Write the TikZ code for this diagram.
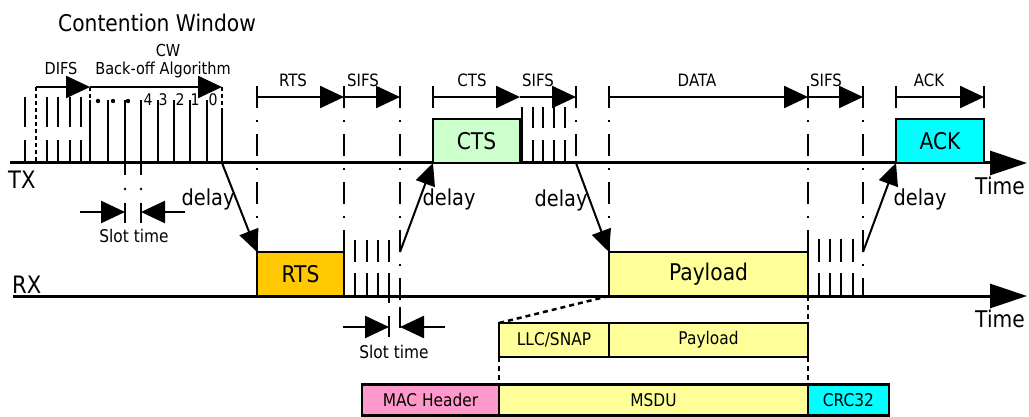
\documentclass[tikz,border=0pt]{standalone}
\usepackage{fontspec}
\setmainfont{DejaVu Sans}[FakeStretch=0.88]
\usetikzlibrary{arrows.meta}
\definecolor{rtsfill}{HTML}{FFC800}
\definecolor{ctsfill}{HTML}{CCFFCC}
\definecolor{ackfill}{HTML}{00FFFF}
\definecolor{payfill}{HTML}{FFFF99}
\definecolor{macfill}{HTML}{FF99CC}
\newcommand\setfs[1]{\fontsize{#1}{#1}\selectfont}
\begin{document}
\begin{tikzpicture}[x=1pt,y=-1pt,
  axis/.style={line width=3pt,-{Triangle[length=37pt,width=24pt]}},
  span/.style={line width=2.5pt,-{Triangle[length=24pt,width=22pt]}},
  guide/.style={line width=2.5pt,dash pattern=on 22pt off 12pt on 2pt off 12pt},
  fine/.style={line width=2pt,dash pattern=on 4pt off 3pt},
  link/.style={line width=2.5pt,dash pattern=on 5pt off 4pt},
  tick/.style={line width=2.5pt},
  delayarr/.style={line width=2pt,-{Triangle[length=22pt,width=20pt]}},
  frame/.style={draw,line width=2.5pt,inner sep=0pt,outer sep=0pt},
  lbl/.style={inner sep=0pt,anchor=base,font=\setfs{17}},
  big/.style={font=\setfs{23}},
  small/.style={font=\setfs{17.5}}]
\useasboundingbox (0,0) rectangle (1029,417);

% time axes
\coordinate (txs) at (10,163);
\coordinate (txe) at (1027,163);
\coordinate (rxs) at (13,296);
\coordinate (rxe) at (1027,296);
\draw[axis] (txs) -- (txe);
\draw[axis] (rxs) -- (rxe);

% frames on the air
\node[frame,fill=rtsfill,minimum width=87pt,minimum height=44pt,big] (rts) at (300.5,274) {RTS};
\node[frame,fill=ctsfill,minimum width=87pt,minimum height=44pt,big] (cts) at (476.5,141) {CTS};
\node[frame,fill=ackfill,minimum width=88pt,minimum height=44pt,big] (ack) at (940,141) {ACK};
\node[frame,fill=payfill,minimum width=199pt,minimum height=44pt,font=\setfs{23}] (pay) at (708.5,274) {Payload};

% frame structure
\node[frame,fill=payfill,minimum width=110pt,minimum height=34pt,small] (llc) at (554,340) {LLC/SNAP};
\node[frame,fill=payfill,minimum width=199pt,minimum height=34pt,small] (pay2) at (708.5,340) {Payload};
\node[frame,fill=macfill,minimum width=137pt,minimum height=31pt,small] (mac) at (430.5,400) {MAC Header};
\node[frame,fill=payfill,minimum width=309pt,minimum height=31pt,small] (msdu) at (653.5,400) {MSDU};
\node[frame,fill=ackfill,minimum width=81pt,minimum height=31pt,small] (crc) at (848.5,400) {CRC32};

\draw[link] (pay.south west) -- (llc.north west);
\draw[link] (llc.south west) -- (msdu.north west);
\draw[link] (pay.south east) -- (pay2.north east);
\draw[link] (pay2.south east) -- (msdu.north east);

% timing guides
\draw[guide] (257,86) -- (rts.north west);
\draw[guide] (344,86) -- (344,296);
\draw[guide] (400,86) -- (400,300);
\draw[guide] (433,86) -- (cts.north west);
\draw[guide] (576,86) -- (576,163);
\draw[guide] (609,86) -- (pay.north west);
\draw[guide] (808,86) -- (808,296);
\draw[guide] (863,86) -- (863,296);
\draw[guide] (896,86) -- (ack.north west);
\draw[guide] (984,86) -- (ack.north east);

% DIFS and contention window
\draw[fine] (36,87) -- (36,163);
\draw[fine] (90,87) -- (90,100);
\draw[fine] (222,87) -- (222,112);
\draw[tick] (222,112) -- (222,163);
\foreach \x in {25,47,58,70,81} \draw[tick] (\x,97) -- (\x,127) (\x,140) -- (\x,163);
\foreach \x in {90,108,158,174,190,207} \draw[tick] (\x,100) -- (\x,163);
\foreach \x in {125,141} {
  \draw[tick] (\x,100) -- (\x,175);
  \fill (\x,189) circle (1.3pt);
  \draw[tick] (\x,203) -- (\x,223);
}
\foreach \x in {98,113,128} \fill (\x,101) circle (2.2pt);
\foreach \x/\d in {148/4,163/3,180/2,195/1,213/0}
  \node[lbl,font=\setfs{16}] at (\x,106) {\d};

\coordinate (difs0) at (36,87);
\coordinate (cw0) at (90,87);
\coordinate (cw1) at (222,87);
\draw[span] (difs0) -- (cw0);
\draw[span] (cw0) -- (cw1);

% slot time on TX
\coordinate (sl1) at (80,212);
\coordinate (sl1t) at (125,212);
\coordinate (sl2) at (185,212);
\coordinate (sl2t) at (141,212);
\draw[span] (sl1) -- (sl1t);
\draw[span] (sl2) -- (sl2t);

% SIFS gaps
\foreach \x in {355,367,378} \draw[tick] (\x,240) -- (\x,262) (\x,273) -- (\x,296);
\draw[tick] (389,240) -- (389,262) (389,273) -- (389,303);
\draw[tick] (522,107) -- (522,163);
\foreach \x in {533,543,554,565} \draw[tick] (\x,107) -- (\x,128) (\x,140) -- (\x,163);
\foreach \x in {819,830,841,853} \draw[tick] (\x,239) -- (\x,262) (\x,273) -- (\x,296);

% slot time on RX
\draw[tick] (389,316) -- (389,337);
\draw[tick] (400,307) -- (400,328);
\coordinate (sl3) at (343,327);
\coordinate (sl3t) at (389,327);
\coordinate (sl4) at (445,327);
\coordinate (sl4t) at (400,327);
\draw[span] (sl3) -- (sl3t);
\draw[span] (sl4) -- (sl4t);

% exchange spans
\coordinate (a0) at (257,97);
\coordinate (a1) at (344,97);
\coordinate (a2) at (400,97);
\coordinate (b0) at (433,97);
\coordinate (b1) at (520,97);
\coordinate (b2) at (576,97);
\coordinate (c0) at (609,97);
\coordinate (c1) at (808,97);
\coordinate (c2) at (863,97);
\coordinate (d0) at (896,97);
\coordinate (d1) at (984,97);
\draw[span] (a0) -- (a1);
\draw[span] (a1) -- (a2);
\draw[span] (b0) -- (b1);
\draw[span] (b1) -- (b2);
\draw[span] (c0) -- (c1);
\draw[span] (c1) -- (c2);
\draw[span] (d0) -- (d1);

% propagation delays
\coordinate (dl1) at (222,163);
\coordinate (dl2) at (400,252);
\coordinate (dl3) at (576,163);
\coordinate (dl4) at (863,252);
\draw[delayarr] (dl1) -- (rts.north west);
\draw[delayarr] (dl2) -- (cts.south west);
\draw[delayarr] (dl3) -- (pay.north west);
\draw[delayarr] (dl4) -- (ack.south west);

% labels
\node[lbl,font=\setfs{23}] (title) at (157,32) {Contention Window};
\node[lbl,font=\setfs{16.5}] (cwl) at (168,57) {CW};
\node[lbl,font=\setfs{16.5}] (bol) at (163,75) {Back-off Algorithm};
\node[lbl,font=\setfs{16.5}] (difs) at (61,75) {DIFS};
\node[lbl] (lrts) at (293,87) {RTS};
\node[lbl] (ls1) at (363,87) {SIFS};
\node[lbl] (lcts) at (472,87) {CTS};
\node[lbl] (ls2) at (538,87) {SIFS};
\node[lbl] (ldata) at (697,87) {DATA};
\node[lbl] (ls3) at (826,87) {SIFS};
\node[lbl] (lack) at (929,87) {ACK};
\node[lbl,anchor=base west,font=\setfs{24}] (tx) at (8,189) {TX};
\node[lbl,anchor=base west,font=\setfs{24}] (rx) at (12,293) {RX};
\node[lbl,font=\setfs{23}] (t1) at (1000,195) {Time};
\node[lbl,font=\setfs{23}] (t2) at (1000,327) {Time};
\node[lbl,font=\setfs{22}] (dt1) at (208,205) {delay};
\node[lbl,font=\setfs{22}] (dt2) at (449,206) {delay};
\node[lbl,font=\setfs{22}] (dt3) at (561,207) {delay};
\node[lbl,font=\setfs{22}] (dt4) at (920,205) {delay};
\node[lbl,font=\setfs{17.5}] (st1) at (134,242) {Slot time};
\node[lbl,font=\setfs{17.5}] (st2) at (394,358) {Slot time};
\end{tikzpicture}
\end{document}
